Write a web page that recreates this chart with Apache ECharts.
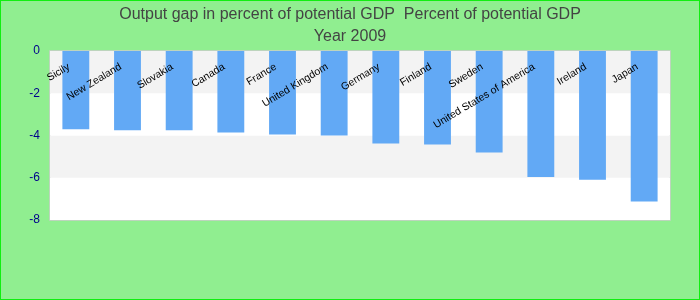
<!DOCTYPE html>
<html><head><meta charset="utf-8">
<script src="https://cdn.jsdelivr.net/npm/echarts@6/dist/echarts.min.js"></script>
<style>html,body{margin:0;padding:0;}#c{width:700px;height:300px;}</style>
</head><body><div id="c"></div>
<script>
const titleMain = 'Output gap in percent of potential GDP  Percent of potential GDP';
const titleSub = 'Year 2009';
const categories = ['Sicily','New Zealand','Slovakia','Canada','France','United Kingdom','Germany','Finland','Sweden','United States of America','Ireland','Japan'];
const values = [-3.71,-3.75,-3.75,-3.86,-3.95,-4.0,-4.38,-4.43,-4.8,-5.97,-6.09,-7.13];
const yTicks = [0,-2,-4,-6,-8];

const chart = echarts.init(document.getElementById('c'));
chart.setOption({
  backgroundColor: '#90ee90',
  animation: false,
  title: {
    text: titleMain,
    subtext: titleSub,
    left: 'center',
    top: 2,
    itemGap: 6,
    textStyle: {fontFamily: 'Liberation Sans', fontSize: 16, fontWeight: 'normal', color: '#444'},
    subtextStyle: {fontFamily: 'Liberation Sans', fontSize: 16, color: '#444'}
  },
  grid: {left: 50, right: 30, top: 51, bottom: 80, show: true, borderColor: '#ccc', borderWidth: 1.5, backgroundColor: '#fff'},
  xAxis: {
    type: 'category',
    data: categories,
    position: 'bottom',
    offset: -169,
    z: 10,
    axisLine: {show: false, onZero: false},
    axisTick: {show: false},
    axisLabel: {rotate: 31, interval: 0, margin: 11, padding: [0, 8, 0, 0], fontFamily: 'Liberation Sans', fontSize: 10.5, color: '#000'}
  },
  yAxis: {
    type: 'value',
    min: -8, max: 0, interval: 2,
    axisLabel: {margin: 10, fontFamily: 'Liberation Sans', fontSize: 12, color: '#00008b'},
    axisLine: {show: false},
    axisTick: {show: false},
    splitLine: {show: false},
    splitArea: {show: true, areaStyle: {color: ['#ffffff', '#f3f3f3']}}
  },
  series: [{
    type: 'bar',
    data: values,
    barWidth: '52%',
    itemStyle: {color: '#62a9f5'},
    z: 1
  }]
});
</script>
<div style="position:absolute;left:0;top:0;width:698px;height:298px;border:1px solid #11ee11;pointer-events:none;"></div>
</body></html>
